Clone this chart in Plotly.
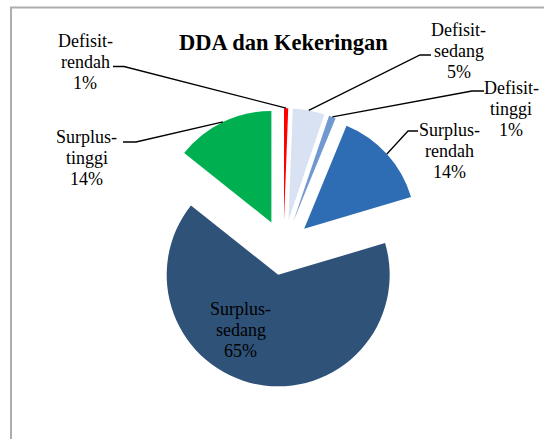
import math
import plotly.graph_objects as go

# ---- data ----
categories = ["Defisit-rendah", "Defisit-sedang", "Defisit-tinggi",
              "Surplus-rendah", "Surplus-sedang", "Surplus-tinggi"]
values = [0.6, 4.6, 1.0, 14.2, 65.3, 14.3]
colors = ["#FF0000", "#D9E2F3", "#7199CF", "#2E6DB4", "#2F5279", "#00B050"]
title_text = "DDA dan Kekeringan"

# ---- layout geometry (pixels) ----
W, H = 544, 439
PULL = 0.25
R = 111.5
CX, CY = 283.5, 247.5
HALF = R * (1 + PULL)
FONT = "Liberation Serif"
FS = 18
LH = 21  # line spacing of the labels


def px(x):
    return x / W


def py(y):
    return 1 - y / H


fig = go.Figure(go.Pie(
    labels=categories,
    values=values,
    sort=False,
    direction="clockwise",
    rotation=0,
    pull=[PULL] * len(values),
    marker=dict(colors=colors, line=dict(width=0)),
    textinfo="none",
    hoverinfo="label+percent",
    showlegend=False,
    domain=dict(x=[px(CX - HALF), px(CX + HALF)], y=[py(CY + HALF), py(CY - HALF)]),
))

total = sum(values)
pct = [f"{round(v / total * 100)}%" for v in values]

# label placement: (center x, first baseline y, leader start, leader elbow)
label_pos = {
    "Defisit-rendah": (85, 47, (113, 66.5), (124, 66.5)),
    "Defisit-sedang": (458.5, 36.5, (431, 55), (420, 55)),
    "Defisit-tinggi": (511, 94.5, (484, 91), (472, 91)),
    "Surplus-rendah": (449.5, 136, (418, 131), (408, 131)),
    "Surplus-sedang": (240.5, 315, None, None),
    "Surplus-tinggi": (86.5, 143, (123, 142), (136, 142)),
}

annotations = []
shapes = []
cum = 0.0
for cat, v, p in zip(categories, values, pct):
    mid = (cum + v / 2) / total * 2 * math.pi
    cum += v
    cx, base, start, elbow = label_pos[cat]
    head, tail = cat.split("-")
    lines = [head + "-", tail, p]
    for i, t in enumerate(lines):
        yb = base + i * LH
        annotations.append(dict(
            x=px(cx), y=py(yb - 0.3375 * FS), xref="paper", yref="paper",
            text=t, showarrow=False, xanchor="center", yanchor="middle",
            font=dict(family=FONT, size=FS, color="#000000"),
        ))
    if start is not None:
        ex = CX + HALF * math.sin(mid)
        ey = CY - HALF * math.cos(mid)
        path = (f"M {px(start[0])},{py(start[1])} L {px(elbow[0])},{py(elbow[1])} "
                f"L {px(ex)},{py(ey)}")
        shapes.append(dict(type="path", xref="paper", yref="paper", path=path,
                           line=dict(color="#000000", width=1.3)))

# title
annotations.append(dict(
    x=px(283), y=py(50 - 0.3375 * 22.5), xref="paper", yref="paper",
    text=f"<b>{title_text}</b>", showarrow=False, xanchor="center", yanchor="middle",
    font=dict(family=FONT, size=22.5, color="#000000"),
))

# chart frame (only top and left edges visible in the crop)
shapes.append(dict(type="rect", xref="paper", yref="paper",
                   x0=px(11), y0=py(7.5), x1=px(W + 20), y1=py(H + 20),
                   line=dict(color="#ADADAD", width=2), layer="below"))

fig.update_layout(
    width=W, height=H,
    margin=dict(l=0, r=0, t=0, b=0),
    paper_bgcolor="#FFFFFF",
    plot_bgcolor="#FFFFFF",
    font=dict(family=FONT),
    annotations=annotations,
    shapes=shapes,
    showlegend=False,
)

fig.write_html("out.html")
